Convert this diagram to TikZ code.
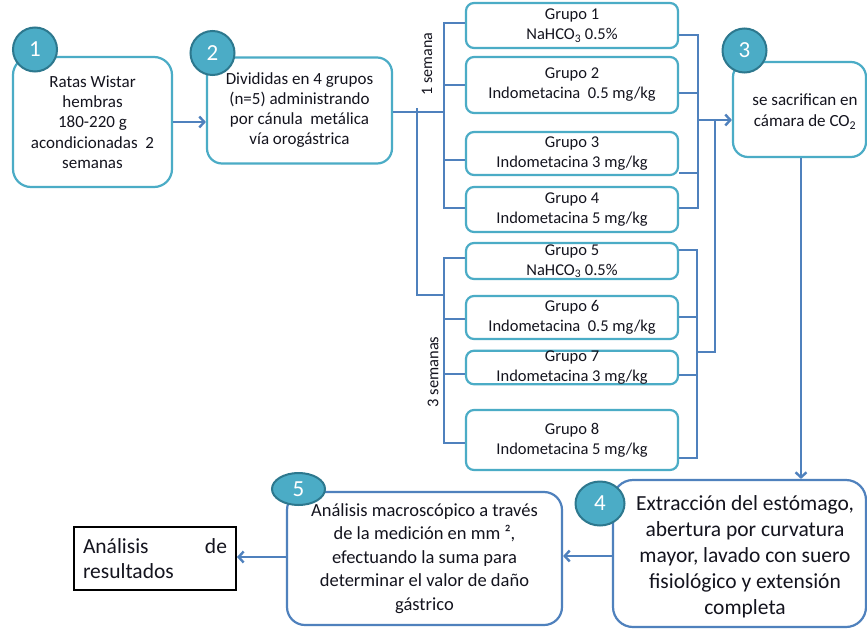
\documentclass[tikz,border=0pt]{standalone}
\usepackage{fontspec}
\setmainfont{Carlito}
\usetikzlibrary{arrows.meta,shapes.geometric,calc}
\definecolor{bxc}{RGB}{75,172,198}
\definecolor{numfill}{RGB}{75,172,198}
\definecolor{numdraw}{RGB}{45,120,142}
\definecolor{cb}{RGB}{79,129,189}
\definecolor{txt}{RGB}{20,20,30}
\tikzset{
  box/.style={draw=bxc, line width=2.2pt, fill=white, rounded corners=#1, inner sep=0pt, align=center, text=txt},
  box/.default=15pt,
  bbox/.style={box=#1, draw=cb},
  grp/.style={box=8pt, minimum width=212pt, font=\fontsize{16.5}{20}\selectfont},
  num/.style={circle, fill=numfill, draw=numdraw, line width=2pt, text=white, minimum size=44pt, inner sep=0pt, font=\fontsize{23}{26}\selectfont},
  numell/.style={ellipse, fill=numfill, draw=numdraw, line width=2pt, text=white, inner sep=0pt, font=\fontsize{23}{26}\selectfont},
  conn/.style={draw=cb, line width=2.4pt},
  arr/.style={conn, -{Straight Barb[length=5pt,width=11pt]}},
  lbl/.style={text=txt, inner sep=0pt, align=center}
}
\begin{document}
\begin{tikzpicture}[x=1pt,y=-1pt]
\fill[white] (0,0) rectangle (867,629);
\useasboundingbox (0,0) rectangle (867,629);

% main boxes
\node[box=18pt, minimum width=159pt, minimum height=130pt, font=\fontsize{17}{20.3}\selectfont] (b1) at (92.5,122)
  {Ratas Wistar\\hembras\\180-220 g\\acondicionadas\ \ 2\\semanas};
\node[box=15pt, minimum width=185pt, minimum height=106pt, font=\fontsize{17}{20}\selectfont] (b2) at (299.5,110.5)
  {Divididas en 4 grupos\\(n=5) administrando\\por cánula\ \ metálica\\vía orogástrica};
\node[box=15pt, minimum width=133pt, minimum height=95pt] (b3) at (799.5,109.5) {};
\node[lbl, font=\fontsize{17}{21}\selectfont] (t3) at (805,111.5) {se sacrifican en\\cámara de CO\textsubscript{2}};
\node[bbox=20pt, minimum width=253pt, minimum height=147pt] (b4) at (739.5,553.5) {};
\node[lbl, font=\fontsize{21.5}{26}\selectfont] (t4) at (745,556.5)
  {Extracción del estómago,\\abertura por curvatura\\mayor, lavado con suero\\fisiológico y extensión\\completa};
\node[bbox=18pt, minimum width=275pt, minimum height=133pt, font=\fontsize{18.5}{23.5}\selectfont] (b5) at (424.5,558.5)
  {Análisis macroscópico a través\\de la medición en mm ²,\\efectuando la suma para\\determinar el valor de daño\\gástrico};
\node[draw=black, line width=2pt, minimum width=162pt, minimum height=63pt, inner sep=0pt, text=txt, font=\fontsize{21.5}{25}\selectfont] (res) at (155,558.5)
  {\parbox{144pt}{Análisis\hfill de\\resultados}};

% group boxes
\node[grp, minimum height=45pt] (g1) at (572,25.5) {Grupo 1\\NaHCO\textsubscript{3} 0.5\%};
\node[grp, minimum height=56pt] (g2) at (572,85) {Grupo 2\\Indometacina\ \ 0.5 mg/kg};
\node[grp, minimum height=43pt] (g3) at (572,153.5) {Grupo 3\\Indometacina 3 mg/kg};
\node[grp, minimum height=45pt] (g4) at (572,209.5) {Grupo 4\\Indometacina 5 mg/kg};
\node[grp, minimum height=36pt] (g5) at (572,261) {Grupo 5\\NaHCO\textsubscript{3} 0.5\%};
\node[grp, minimum height=43pt] (g6) at (572,317.5) {Grupo 6\\Indometacina\ \ 0.5 mg/kg};
\node[grp, minimum height=33pt] (g7) at (572,367.5) {Grupo 7\\Indometacina 3 mg/kg};
\node[grp, minimum height=60pt] (g8) at (572,440) {Grupo 8\\Indometacina 5 mg/kg};

% rotated labels
\node[lbl, rotate=90, font=\fontsize{16}{19}\selectfont] (l1) at (427,64) {1 semana};
\node[lbl, rotate=90, font=\fontsize{16.5}{19}\selectfont] (l3) at (433,372) {3 semanas};

% number circles
\node[num] (c1) at (35,49.5) {1};
\node[num] (c2) at (212.5,53) {2};
\node[num] (c3) at (744.5,50.5) {3};
\node[numell, minimum width=49pt, minimum height=44pt] (c4) at (600,503.5) {4};
\node[numell, minimum width=53pt, minimum height=32pt] (c5) at (298.5,489) {5};

% junction coordinates
\coordinate (j1) at (444,112);
\coordinate (tt) at (417,108);
\coordinate (tb) at (417,295);
\coordinate (k2) at (444,295);
\coordinate (r1) at (698,120);
\coordinate (r2) at (715,120);
\coordinate (r3) at (715,352);
\coordinate (r4) at (697,352);

% connectors
\draw[arr] (b1.east |- 0,122) -- (b2.west |- 0,122);
\draw[conn] (b2.east |- j1) -- (j1);
\draw[conn] (tt) -- (tb) -- (k2);

\draw[conn] (g1.west |- 0,23) -- (444,23) -- (444,208) -- (g4.west |- 0,208);
\draw[conn] (444,85) -- (g2.west |- 0,85);
\draw[conn] (444,160) -- (g3.west |- 0,160);

\draw[conn] (g1.east |- 0,35) -- (698,35) -- (698,208) -- (g4.east |- 0,208);
\draw[conn] (g2.east |- 0,93) -- (698,93);
\draw[conn] (g3.east |- 0,173) -- (698,173);
\draw[arr] (r1) -- (b3.west |- r1);
\draw[conn] (r2) -- (r3) -- (r4);

\draw[conn] (g5.west |- 0,258) -- (444,258) -- (444,443) -- (g8.west |- 0,443);
\draw[conn] (444,319) -- (g6.west |- 0,319);
\draw[conn] (444,374) -- (g7.west |- 0,374);

\draw[conn] (g5.east |- 0,250) -- (697,250) -- (697,458) -- (g8.east |- 0,458);
\draw[conn] (g6.east |- 0,317) -- (697,317);
\draw[conn] (g7.east |- 0,375) -- (697,375);

\draw[arr] (b3.south -| 801,0) -- (b4.north -| 801,0);
\draw[arr] (b4.west |- 0,556) -- (b5.east |- 0,556);
\draw[arr] (b5.west |- 0,557) -- (res.east |- 0,557);
\end{tikzpicture}
\end{document}
